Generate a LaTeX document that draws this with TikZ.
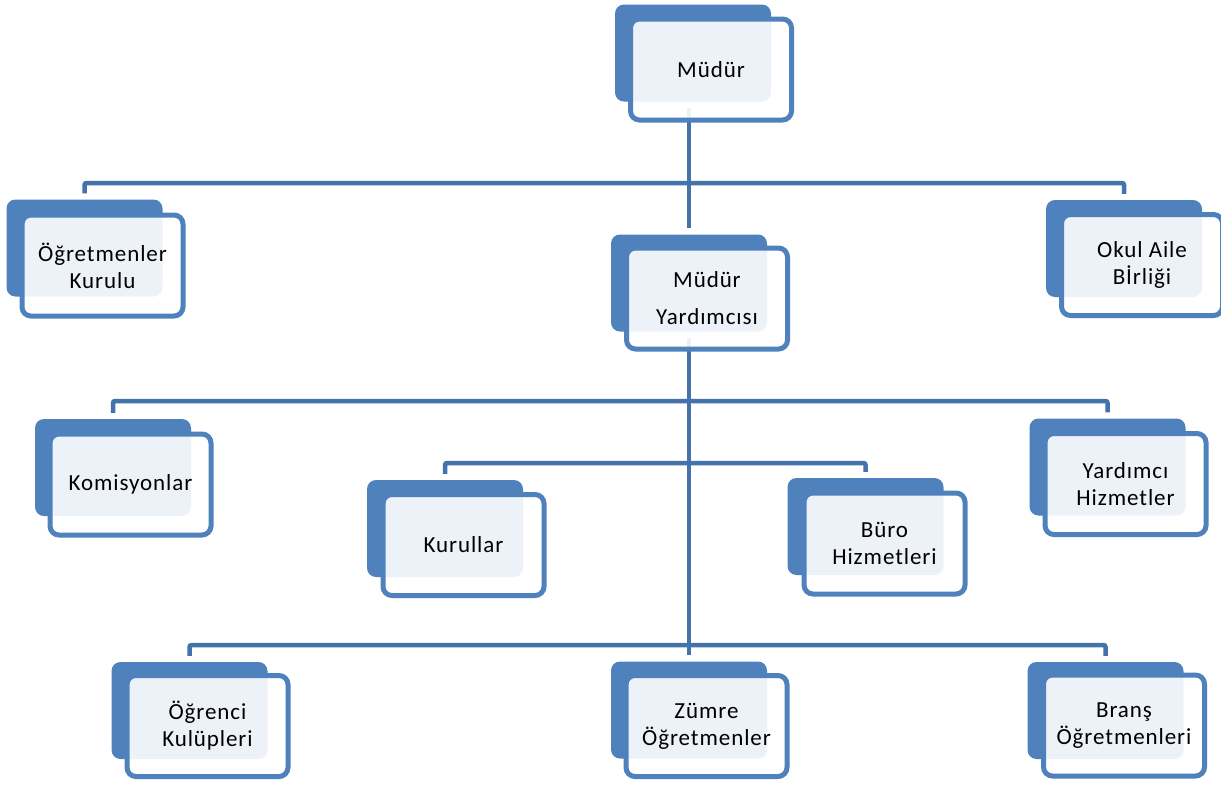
\documentclass[tikz,border=0pt]{standalone}
\usepackage{fontspec}
\setmainfont{Carlito}[LetterSpace=4]
\pgfdeclarelayer{bg}
\pgfsetlayers{bg,main}
\definecolor{boxblue}{RGB}{79,129,189}
\definecolor{linkblue}{RGB}{68,114,170}
\begin{document}
\begin{tikzpicture}[x=1pt, y=-1pt,
    backbox/.style={fill=boxblue, rounded corners=9pt, minimum width=156pt, minimum height=97pt, inner sep=0pt},
    frontbox/.style={draw=boxblue, line width=5pt, fill=white, fill opacity=.9, text opacity=1,
        rounded corners=9pt, minimum width=161pt, minimum height=101pt, inner sep=0pt,
        align=center, font=\fontsize{23}{27}\selectfont},
    link/.style={draw=linkblue, line width=4.5pt, rounded corners=2pt, shorten <=6pt, shorten >=6pt}]
    \useasboundingbox (0,0) rectangle (1221,785);

    \node[backbox]  (mudurB) at (693,53) {};
    \node[frontbox] (mudur) at (711,69.5) {Müdür};

    \node[backbox]  (kuruluB) at (84.5,248) {};
    \node[frontbox] (kurulu) at (102.5,265.5) {Öğretmenler\\Kurulu};
    \node[backbox]  (yrdB) at (689,283) {};
    \node[frontbox] (yrd) at (707,298.5) {Müdür\\[10pt]Yardımcısı};
    \node[backbox]  (aileB) at (1124,248.5) {};
    \node[frontbox] (aile) at (1142,265) {Okul Aile\\Bİrliği};

    \node[backbox]  (komB) at (113,467.5) {};
    \node[frontbox] (kom) at (130.5,484.5) {Komisyonlar};
    \node[backbox]  (yhizB) at (1107.5,467) {};
    \node[frontbox] (yhiz) at (1125.5,484) {Yardımcı\\Hizmetler};
    \node[backbox]  (kurB) at (445,528.5) {};
    \node[frontbox] (kur) at (463.5,545) {Kurullar};
    \node[backbox]  (buroB) at (865.5,526.5) {};
    \node[frontbox] (buro) at (884.5,543.5) {Büro\\Hizmetleri};

    \node[backbox]  (ogrB) at (189.5,710.5) {};
    \node[frontbox] (ogr) at (207.5,726) {Öğrenci\\Kulüpleri};
    \node[backbox]  (zumreB) at (689,710) {};
    \node[frontbox] (zumre) at (706.5,726) {Zümre\\Öğretmenler};
    \node[backbox]  (bransB) at (1105.5,710.5) {};
    \node[frontbox] (brans) at (1124,725.5) {Branş\\Öğretmenleri};

    \begin{pgfonlayer}{bg}
        \coordinate (bus1) at (689,183);
        \coordinate (bus2) at (689,401);
        \coordinate (bus3) at (689,463);
        \coordinate (bus4) at (689,645);
        \draw[link] (yrdB.north |- mudurB.south) -- (yrdB.north);
        \draw[link] (kuruluB.north) |- (bus1) -| (aileB.north);
        \draw[link] (yrdB.south) -- (zumreB.north);
        \draw[link] (komB.north) |- (bus2) -| (yhizB.north);
        \draw[link] (kurB.north) |- (bus3) -| (buroB.north);
        \draw[link] (ogrB.north) |- (bus4) -| (bransB.north);
    \end{pgfonlayer}
\end{tikzpicture}
\end{document}
